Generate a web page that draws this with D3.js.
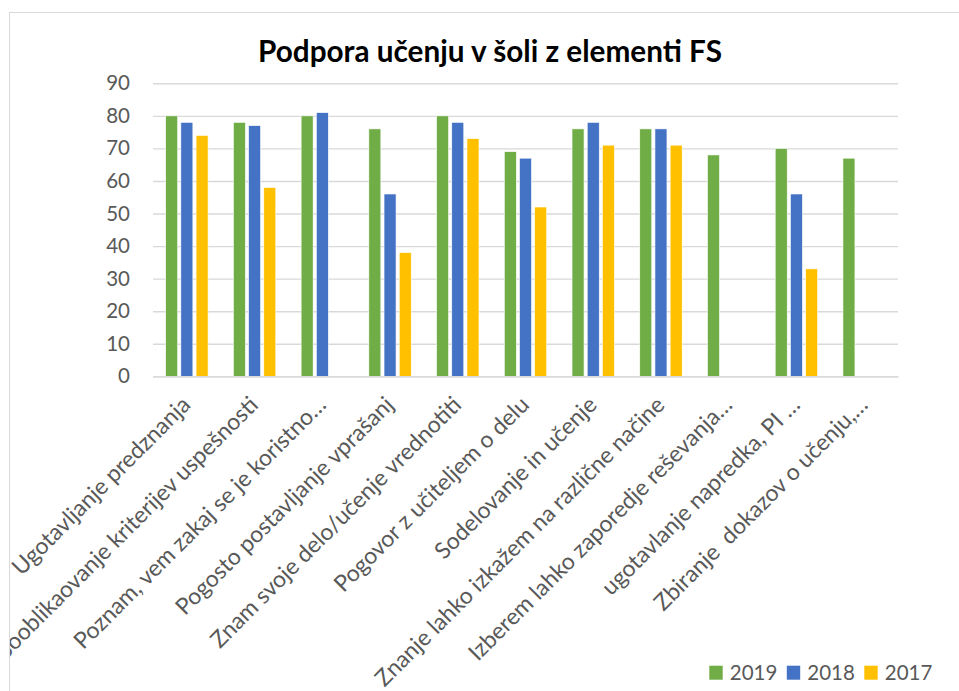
<!DOCTYPE html>
<html>
<head>
<meta charset="utf-8">
<script src="https://cdn.jsdelivr.net/npm/d3@7"></script>
<style>
  html, body { margin: 0; padding: 0; background: #fff; }
  svg { display: block; }
  text { font-family: Lato, "Open Sans", sans-serif; }
</style>
</head>
<body>
<svg id="chart" width="959" height="691"></svg>
<script>
const title = "Podpora učenju v šoli z elementi FS";
const categories = [
  "Ugotavljanje predznanja",
  "Sooblikaovanje kriterijev uspešnosti",
  "Poznam, vem zakaj se je koristno…",
  "Pogosto postavljanje vprašanj",
  "Znam svoje delo/učenje vrednotiti",
  "Pogovor z učiteljem o delu",
  "Sodelovanje in učenje",
  "Znanje lahko izkažem na različne načine",
  "Izberem lahko zaporedje reševanja…",
  "ugotavlanje napredka, PI …",
  "Zbiranje  dokazov o učenju,…"
];
const seriesNames = ["2019", "2018", "2017"];
const values2019 = [80, 78, 80, 76, 80, 69, 76, 76, 68, 70, 67];
const values2018 = [78, 77, 81, 56, 78, 67, 78, 76, null, 56, null];
const values2017 = [74, 58, null, 38, 73, 52, 71, 71, null, 33, null];
const seriesColors = ["#70AD47", "#4472C4", "#FFC000"];
const yTicks = [0, 10, 20, 30, 40, 50, 60, 70, 80, 90];

const seriesValues = [values2019, values2018, values2017];
const svg = d3.select("#chart");

svg.append("defs").append("clipPath").attr("id", "area")
  .append("rect").attr("x", 10).attr("y", 13).attr("width", 960).attr("height", 700);

const root = svg.append("g").attr("clip-path", "url(#area)");

svg.append("rect")
  .attr("x", 9.5).attr("y", 12.5).attr("width", 980).attr("height", 700)
  .attr("fill", "none").attr("stroke", "#d9d9d9").attr("stroke-width", 1);

const plot = { left: 153, right: 898, top: 83.3, bottom: 376.3 };

const x0 = d3.scaleBand().domain(categories).range([plot.left, plot.right]).paddingInner(0).paddingOuter(0);
const x1 = d3.scaleBand().domain(seriesNames).range([0, x0.bandwidth()]).paddingInner(0.21).paddingOuter(0.833);
const y = d3.scaleLinear().domain([0, 90]).range([plot.bottom, plot.top]);
const color = d3.scaleOrdinal().domain(seriesNames).range(seriesColors);

const yAxis = d3.axisLeft(y).tickValues(yTicks).tickSize(-(plot.right - plot.left)).tickPadding(12);
const gy = root.append("g").attr("transform", `translate(${plot.left},0)`).call(yAxis);
gy.select(".domain").remove();
gy.selectAll(".tick line").attr("stroke", "#d9d9d9").attr("stroke-width", 1.4);
gy.selectAll(".tick text")
  .attr("x", 130 - plot.left)
  .attr("fill", "#595959").style("font-size", "20.5px").attr("text-anchor", "end");

const groups = root.append("g").selectAll("g").data(categories).join("g")
  .attr("transform", d => `translate(${x0(d)},0)`);
groups.selectAll("rect")
  .data((d, i) => seriesNames.map((s, k) => ({ s, v: seriesValues[k][i] })).filter(o => o.v != null))
  .join("rect")
  .attr("x", d => x1(d.s))
  .attr("width", x1.bandwidth())
  .attr("y", d => y(d.v))
  .attr("height", d => y(0) - y(d.v))
  .attr("fill", d => color(d.s))
  .attr("stroke", "#fff").attr("stroke-width", 0.6);

const gx = root.append("g").attr("transform", `translate(0,${plot.bottom})`)
  .call(d3.axisBottom(x0).tickSize(0).tickFormat(""));
gx.select(".domain").attr("stroke", "#d9d9d9").attr("stroke-width", 1.4);

const labG = root.append("g");
const labels = labG.selectAll("text").data(categories).join("text")
  .attr("text-anchor", "end")
  .attr("fill", "#595959")
  .style("white-space", "pre")
  .style("font-size", "20px")
  .attr("transform", d => `translate(${x0(d) + x0.bandwidth() / 2 + 5},${plot.bottom + 30}) rotate(-45)`)
  .text(d => d);
const nodes = labels.nodes();
const r1 = 241 / nodes[0].getComputedTextLength();
const r2 = 398 / nodes[7].getComputedTextLength();
labels.style("font-size", (20 * (0.25 * r1 + 0.75 * r2)) + "px");

const t = svg.append("text")
  .attr("x", 490).attr("y", 62)
  .attr("text-anchor", "middle")
  .attr("fill", "#000")
  .style("font-weight", "bold")
  .style("font-size", "24px")
  .text(title);
const tw = t.node().getComputedTextLength();
t.style("font-size", (24 * 464 / tw) + "px");

const leg = svg.append("g").selectAll("g").data(seriesNames).join("g")
  .attr("transform", (d, i) => `translate(${709.3 + i * 77.5},665.7)`);
leg.append("rect").attr("width", 13.4).attr("height", 14).attr("fill", d => color(d));
leg.append("text").attr("x", 20.5).attr("y", 14.3)
  .attr("fill", "#595959").style("font-size", "20.5px").text(d => d);
</script>
</body>
</html>
